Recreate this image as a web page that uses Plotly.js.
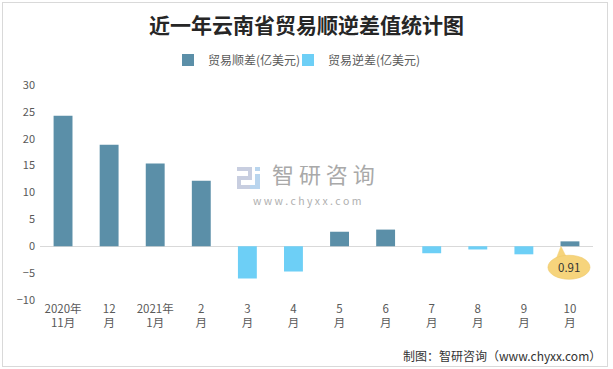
<!DOCTYPE html>
<html>
<head>
<meta charset="utf-8">
<script src="https://cdn.plot.ly/plotly-3.0.1.min.js"></script>
<style>
  html, body { margin: 0; padding: 0; background: #fff; }
  #wrap { position: relative; width: 613px; height: 369px; }
  #chart { width: 613px; height: 369px; }
  #frame { position: absolute; left: 2px; top: 2px; width: 604px; height: 363px;
           border: 1px solid #d9d9d9; pointer-events: none; }
</style>
</head>
<body>
<div id="wrap"><div id="chart"></div><div id="frame"></div></div>
<script>
// ---- data ----
const categories = ['2020年11月','2020年12月','2021年1月','2021年2月','2021年3月','2021年4月',
                    '2021年5月','2021年6月','2021年7月','2021年8月','2021年9月','2021年10月'];
const tickLabels = ['2020年<br>11月','12<br>月','2021年<br>1月','2<br>月','3<br>月','4<br>月',
                    '5<br>月','6<br>月','7<br>月','8<br>月','9<br>月','10<br>月'];
const surplus = [24.3, 18.9, 15.4, 12.2, null, null, 2.7, 3.1, null, null, null, 0.91];
const deficit = [null, null, null, null, -6.0, -4.7, null, null, -1.3, -0.6, -1.5, null];
const seriesNames = ['贸易顺差(亿美元)', '贸易逆差(亿美元)'];
const titleText = '近一年云南省贸易顺逆差值统计图';
const sourceText = '制图：智研咨询（www.chyxx.com）';
const calloutIndex = 11;

const FONT = '"Noto Sans CJK SC", "Noto Sans", sans-serif';
const L = 40, R = 20, T = 85, B = 69, W = 613, H = 369;
const PW = W - L - R, PH = H - T - B;
const px = v => (v - L) / PW;
const py = v => (H - B - v) / PH;

const traces = [
  { type: 'bar', name: seriesNames[0], x: categories, y: surplus, width: 0.41,
    marker: { color: '#5B8FA8' }, hoverinfo: 'skip', legend: 'legend' },
  { type: 'bar', name: seriesNames[1], x: categories, y: deficit, width: 0.41,
    marker: { color: '#6DCFF6' }, hoverinfo: 'skip', legend: 'legend2' }
];

function rectP(x0, y0, x1, y1, color) {
  return { type: 'rect', xref: 'paper', yref: 'paper', layer: 'below',
    x0: px(x0), x1: px(x1), y0: py(y1), y1: py(y0), fillcolor: color, line: { width: 0 } };
}
const logoC1 = '#c8cee0', logoC2 = '#b9d5ee';
const shapes = [
  // watermark logo
  rectP(237, 167, 252, 171, logoC1),
  rectP(248, 167, 252, 180, logoC1),
  rectP(237, 176, 252, 180, logoC1),
  rectP(237, 176, 241, 189, logoC1),
  rectP(237, 185, 252, 189, logoC1),
  rectP(255, 167, 260, 171, logoC2),
  rectP(255, 174, 260, 189, logoC2),
  rectP(250, 185, 260, 189, logoC2),
  // callout bubble
  { type: 'path', xref: 'x', yref: 'y', xsizemode: 'pixel', ysizemode: 'pixel',
    xanchor: calloutIndex, yanchor: 0, path: 'M-9,0 L-14,-13 L-4,-10 Z',
    fillcolor: '#F6D47C', line: { color: '#F6D47C', width: 0.5 } },
  { type: 'circle', xref: 'x', yref: 'y', xsizemode: 'pixel', ysizemode: 'pixel',
    xanchor: calloutIndex, yanchor: 0, x0: -22, x1: 20, y0: -33, y1: -9,
    fillcolor: '#F6D47C', line: { color: '#efc866', width: 0.6 } }
];

const annotations = [
  { xref: 'paper', yref: 'paper', x: px(323), y: py(190), yanchor: 'bottom', text: '智 研 咨 询',
    showarrow: false, borderpad: 0, font: { family: FONT, size: 22, color: '#a9a9a9' } },
  { xref: 'paper', yref: 'paper', x: px(307), y: py(192), yanchor: 'top', text: 'w w w . c h y x x . c o m',
    showarrow: false, borderpad: 0, font: { family: FONT, size: 10.5, color: '#b0b0b0' } },
  { xref: 'x', yref: 'y', x: categories[calloutIndex], y: 0, yshift: -21, xshift: -1,
    text: String(surplus[calloutIndex]), showarrow: false,
    font: { family: FONT, size: 11.5, color: '#333' } },
  { xref: 'paper', yref: 'paper', x: px(603), y: py(355), xanchor: 'right', yanchor: 'middle',
    text: sourceText, showarrow: false, font: { family: FONT, size: 12, color: '#333' } }
];

const legendBase = { orientation: 'h', xref: 'container', yref: 'container', xanchor: 'left',
  y: 1 - 60 / H, yanchor: 'middle', font: { size: 12, color: '#595959' }, bgcolor: 'rgba(0,0,0,0)' };

const layout = {
  width: W, height: H,
  margin: { l: L, r: R, t: T, b: B, pad: 0 },
  paper_bgcolor: '#fff', plot_bgcolor: '#fff',
  font: { family: FONT, color: '#595959', size: 11 },
  barmode: 'relative',
  title: { text: titleText, x: 0.5, xref: 'container', xanchor: 'center',
           y: 1 - 26 / H, yref: 'container', yanchor: 'middle',
           font: { family: FONT, size: 21, color: '#262626', weight: 'bold' } },
  showlegend: true,
  legend: Object.assign({}, legendBase, { x: 168 / W }),
  legend2: Object.assign({}, legendBase, { x: 288 / W }),
  xaxis: { type: 'category', tickvals: categories, ticktext: tickLabels,
           showgrid: false, showline: false, zeroline: false, ticks: '',
           tickfont: { size: 11.5, color: '#595959' }, fixedrange: true },
  yaxis: { range: [-10, 30], dtick: 5, tick0: 0, showgrid: false, showline: false,
           zeroline: true, zerolinecolor: '#d9d9d9', zerolinewidth: 1, ticks: '',
           tickfont: { size: 11, color: '#595959' }, ticklabelstandoff: 4, fixedrange: true },
  shapes: shapes,
  annotations: annotations
};

Plotly.newPlot('chart', traces, layout, { displayModeBar: false, staticPlot: true });
</script>
</body>
</html>
